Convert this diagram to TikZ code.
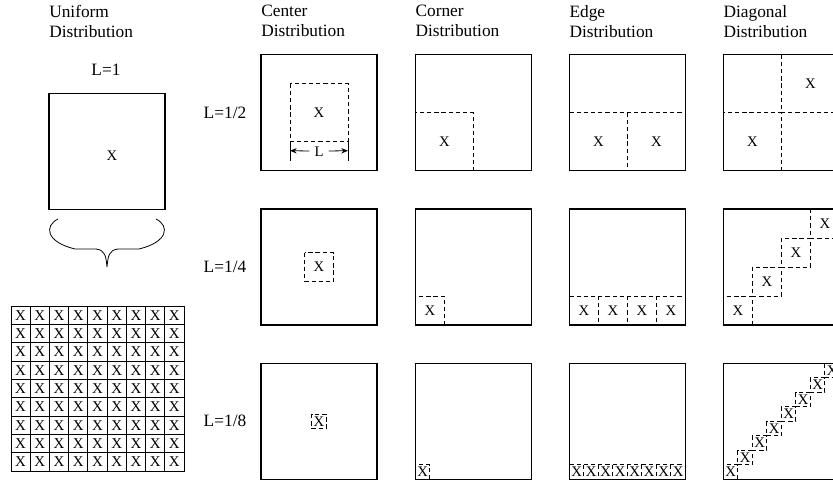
\documentclass[tikz,border=0pt]{standalone}
\usepackage{fontspec}
\setmainfont{Liberation Serif}
\usetikzlibrary{arrows.meta}
\begin{document}
\begin{tikzpicture}[x=0.75pt,y=-0.75pt,
  box/.style={draw=black,line width=0.8pt},
  dbox/.style={draw=black,line width=0.6pt,dash pattern=on 3.2pt off 2.2pt},
  gridcell/.style={draw=black,line width=0.6pt},
  lab/.style={font=\fontsize{13}{15}\selectfont, inner sep=0pt},
  xl/.style={font=\fontsize{11}{13}\selectfont, inner sep=0pt},
  gx/.style={font=\fontsize{11.2}{13}\selectfont, inner sep=0pt},
  dim/.style={line width=0.6pt}]
\useasboundingbox (0,0) rectangle (833,485);
\clip (0,0) rectangle (833,485);

% titles
\node[lab,anchor=north west,align=left] (tU) at (49,5) {Uniform\\Distribution};
\node[lab,anchor=north west,align=left] (tC) at (261,5) {Center\\Distribution};
\node[lab,anchor=north west,align=left] (tK) at (415.3,5) {Corner\\Distribution};
\node[lab,anchor=north west,align=left] (tE) at (569.3,5) {Edge\\Distribution};
\node[lab,anchor=north west,align=left] (tD) at (723.3,5) {Diagonal\\Distribution};

% uniform
\node[lab] (L1) at (106,70) {L=1};
\draw[box] (49,93.3) rectangle (165,209.3);
\node[xl] (xU) at (112,156) {X};

% brace
\draw[line width=0.6pt] (58,219) .. controls (44,226) and (46,242) .. (75,249)
  -- (96,249) .. controls (105,250) and (106,256) .. (107,267)
  .. controls (108,256) and (109,250) .. (118,249)
  -- (139,249) .. controls (168,242) and (170,226) .. (156,219);

% grid
\foreach \i in {0,...,8}{
  \foreach \j in {0,...,8}{
    \draw[gridcell] ({11+\i*19.22},{306+\j*18.33}) rectangle ++(19.22,18.33);
    \node[gx] (g\i\j) at ({11+(\i+0.5)*19.22},{306+(\j+0.5)*18.33}) {X};
  }
}

% row labels
\node[lab] (La) at (225,113) {L=1/2};
\node[lab] (Lb) at (225,267) {L=1/4};
\node[lab] (Lc) at (225,421) {L=1/8};

\foreach \r/\L/\n in {0/58/2, 1/29/4, 2/14.5/8}{
  \pgfmathsetmacro{\yt}{54.7+\r*154.3}
  \pgfmathsetmacro{\yb}{\yt+116}
  \pgfmathtruncatemacro{\m}{\n-1}
  % center
  \draw[box] (261,\yt) rectangle (377,\yb);
  \draw[dbox] ({319-\L/2},{\yt+58-\L/2}) rectangle ({319+\L/2},{\yt+58+\L/2});
  \node[xl] (xc\r) at (319,{\yt+58}) {X};
  % corner
  \draw[box] (415.3,\yt) rectangle (531.3,\yb);
  \draw[dbox] (415.3,{\yb-\L}) rectangle ({415.3+\L},\yb);
  \node[xl] (xk\r) at ({415.3+\L/2},{\yb-\L/2}) {X};
  % edge
  \draw[box] (569.3,\yt) rectangle (685.3,\yb);
  \draw[dbox] (569.3,{\yb-\L}) -- (685.3,{\yb-\L});
  \draw[dbox] (569.3,\yb) -- (685.3,\yb);
  \foreach \i in {0,...,\n}{
    \draw[dbox] ({569.3+\i*\L},{\yb-\L}) -- ({569.3+\i*\L},\yb);
  }
  \foreach \i in {0,...,\m}{
    \node[xl] (xe\r\i) at ({569.3+(\i+0.5)*\L},{\yb-\L/2}) {X};
  }
  % diagonal
  \draw[box] (723.3,\yt) rectangle (839.3,\yb);
  \foreach \i in {0,...,\m}{
    \draw[dbox] ({723.3+\i*\L},{\yb-(\i+1)*\L}) rectangle ({723.3+(\i+1)*\L},{\yb-\i*\L});
    \node[xl] (xd\r\i) at ({723.3+(\i+0.5)*\L},{\yb-(\i+0.5)*\L}) {X};
  }
}

% dimension marker under center L=1/2
\coordinate (da) at (290,141.7);
\coordinate (db) at (348,141.7);
\draw[dim] (da) -- ++(0,19);
\draw[dim] (db) -- ++(0,19);
\node[xl] (dL) at (319,152) {L};
\draw[dim,-{Stealth[length=5pt,width=4pt]}] (dL.west) ++(-5,-1) -- (290,150.7);
\draw[dim,-{Stealth[length=5pt,width=4pt]}] (dL.east) ++(5,-1) -- (348,150.7);
\end{tikzpicture}
\end{document}
